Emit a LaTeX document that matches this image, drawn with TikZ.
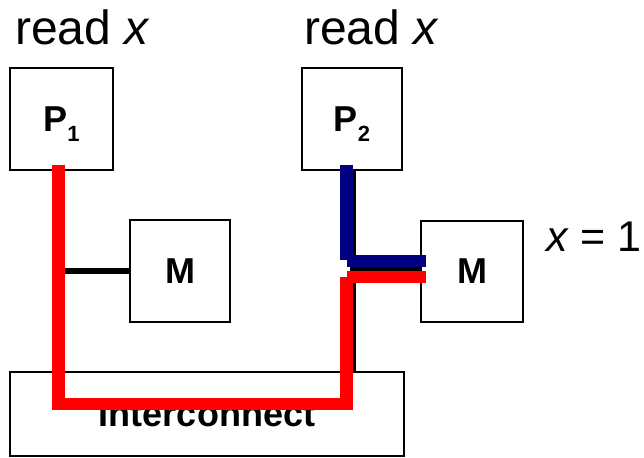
\documentclass[tikz,border=0pt]{standalone}
\usepackage{fontspec}
\setmainfont{Liberation Sans}
\definecolor{busnavy}{RGB}{0,0,128}
\definecolor{busred}{RGB}{255,0,0}
\begin{document}
\begin{tikzpicture}[x=1pt,y=-1pt,
  box/.style={draw=black, line width=1.6pt, inner sep=0pt, text depth=0pt,
    font=\fontsize{36}{36}\selectfont\bfseries},
  toplabel/.style={anchor=base west, inner sep=0pt, font=\fontsize{48}{48}\selectfont},
  vallabel/.style={anchor=base west, inner sep=0pt, font=\fontsize{43}{43}\selectfont},
  wire/.style={line width=6pt, black},
  redbus/.style={line width=12.5pt, busred},
  bluebus/.style={line width=12.5pt, busnavy}
]
\useasboundingbox (0,0) rectangle (644,457);
\fill[white] (0,0) rectangle (644,457);

% boxes
\node[box, minimum width=103pt, minimum height=102pt] (P1) at (61.5,119)
  {P\raisebox{-10pt}{\fontsize{22}{22}\selectfont 1}};
\node[box, minimum width=100pt, minimum height=102pt] (P2) at (352,119)
  {P\raisebox{-10pt}{\fontsize{22}{22}\selectfont 2}};
\node[box, minimum width=100pt, minimum height=102pt] (M1) at (180,271) {M};
\node[box, minimum width=102pt, minimum height=101pt] (M2) at (472,271.5) {M};
\node[box, minimum width=394pt, minimum height=84pt] (IC) at (207,414) {Interconnect};

% labels
\node[toplabel] (R1) at (15,45) {read \textit{x}};
\node[toplabel] (R2) at (304,45) {read \textit{x}};
\node[vallabel] (XV) at (546,251.5) {\textit{x} = 1};

% black wires
\coordinate (j1) at (61.5,271);
\coordinate (j2) at (353,268);
\draw[wire] (P1.south) -- (P1.south |- IC.north);
\draw[wire] (j1) -- (M1.west);
\draw[wire] ([xshift=1pt]P2.south) -- ([xshift=1pt]P2.south |- IC.north);
\draw[wire] (j2) -- (j2 -| M2.west);

% red path
\coordinate (ra) at (58.5,165);
\coordinate (rb) at (58.5,404);
\coordinate (rc) at (346.5,404);
\coordinate (rd) at (346.5,277);
\coordinate (re) at (347,277);
\coordinate (rf) at (426,277);
\draw[redbus, line join=miter] (ra) -- (rb) -- (rc) -- (rd);
\draw[redbus] (re) -- (rf);

% blue path
\coordinate (ba) at (346.5,165);
\coordinate (bb) at (346.5,260);
\coordinate (bc) at (347,261);
\coordinate (bd) at (426,261);
\draw[bluebus] (ba) -- (bb);
\draw[bluebus] (bc) -- (bd);
\end{tikzpicture}
\end{document}
